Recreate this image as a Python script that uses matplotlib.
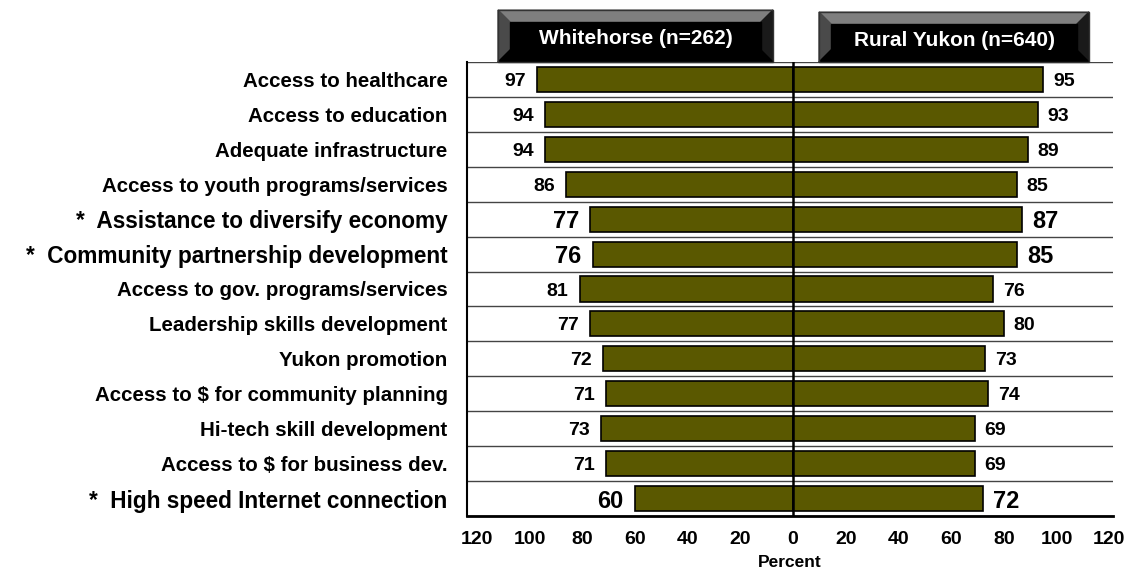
import numpy as np
import matplotlib.pyplot as plt
from matplotlib.patches import Polygon

plt.rcParams['font.family'] = ['Liberation Sans', 'DejaVu Sans']
plt.rcParams['font.weight'] = 'bold'

# survey items, top to bottom
items = ["Access to healthcare", "Access to education", "Adequate infrastructure",
         "Access to youth programs/services", "*  Assistance to diversify economy",
         "*  Community partnership development", "Access to gov. programs/services",
         "Leadership skills development", "Yukon promotion",
         "Access to \\$ for community planning", "Hi-tech skill development",
         "Access to \\$ for business dev.", "*  High speed Internet connection"]
starred = [False, False, False, False, True, True, False, False, False, False, False, False, True]
whitehorse = [97, 94, 94, 86, 77, 76, 81, 77, 72, 71, 73, 71, 60]
rural = [95, 93, 89, 85, 87, 85, 76, 80, 73, 74, 69, 69, 72]
groups = ["Whitehorse (n=262)", "Rural Yukon (n=640)"]
ticks = [-120, -100, -80, -60, -40, -20, 0, 20, 40, 60, 80, 100, 120]

bar_col = '#5a5800'
W, H = 1135, 575
fig = plt.figure(figsize=(W / 100, H / 100), dpi=100)
ax = fig.add_axes([467 / W, 1 - 516 / H, 646 / W, 454 / H])

y = np.arange(len(items))
ax.barh(y, -np.array(whitehorse), height=0.72, color=bar_col, edgecolor='black', lw=1.2, zorder=3)
ax.barh(y, rural, height=0.72, color=bar_col, edgecolor='black', lw=1.2, zorder=3)

for i in range(len(items)):
    fs = 17 if starred[i] else 14
    ax.annotate(str(whitehorse[i]), (-whitehorse[i], i), xytext=(-8, 0), textcoords='offset points',
                ha='right', va='center_baseline', fontsize=fs, fontweight='bold')
    ax.annotate(str(rural[i]), (rural[i], i), xytext=(7, 0), textcoords='offset points',
                ha='left', va='center_baseline', fontsize=fs, fontweight='bold')

# row separators and centre line
for i in range(len(items) + 1):
    ax.axhline(i - 0.5, color='#444444', lw=1.0, zorder=1)
ax.axvline(0, color='black', lw=1.8, zorder=4)

ax.set_xlim(-123.7, 121.4)
ax.set_ylim(len(items) - 0.5, -0.5)
ax.set_xticks(ticks)
ax.set_xticklabels([str(abs(t)) for t in ticks], fontsize=14, fontweight='bold')
ax.set_yticks(y)
ax.set_yticklabels(items, fontweight='bold', va='center_baseline')
for lab, s in zip(ax.get_yticklabels(), starred):
    lab.set_fontsize(16.3 if s else 14.8)
ax.tick_params(axis='x', length=0, pad=11)
ax.tick_params(axis='y', length=0, pad=14)
ax.set_xlabel('Percent', fontsize=12.5, fontweight='bold', labelpad=5)
for side in ['top', 'right']:
    ax.spines[side].set_visible(False)
ax.spines['left'].set_linewidth(1.5)
ax.spines['bottom'].set_linewidth(2.0)

# bevelled header boxes above each half
ov = fig.add_axes([0, 0, 1, 1], zorder=5)
ov.set_xlim(0, W)
ov.set_ylim(H, 0)
ov.axis('off')
boxes = [(498, 773, 10, 62), (819, 1089, 12, 62)]
b = 12
for (x0, x1, y0, y1), name in zip(boxes, groups):
    ov.add_patch(Polygon([(x0, y0), (x1, y0), (x1 - b, y0 + b), (x0 + b, y0 + b)], color='#7f7f7f'))
    ov.add_patch(Polygon([(x0, y0), (x0 + b, y0 + b), (x0 + b, y1 - b), (x0, y1)], color='#4a4a4a'))
    ov.add_patch(Polygon([(x1, y0), (x1 - b, y0 + b), (x1 - b, y1 - b), (x1, y1)], color='#1a1a1a'))
    ov.add_patch(Polygon([(x0, y1), (x0 + b, y1 - b), (x1 - b, y1 - b), (x1, y1)], color='black'))
    ov.add_patch(Polygon([(x0 + b, y0 + b), (x1 - b, y0 + b), (x1 - b, y1 - b), (x0 + b, y1 - b)], color='black'))
    ov.add_patch(Polygon([(x0, y0), (x1, y0), (x1, y1), (x0, y1)], fill=False, ec='#333333', lw=1))
    ov.text((x0 + x1) / 2, (y0 + y1) / 2 + 3, name, color='white', ha='center', va='center',
            fontsize=15, fontweight='bold')

fig.savefig('out.png', dpi=100)
